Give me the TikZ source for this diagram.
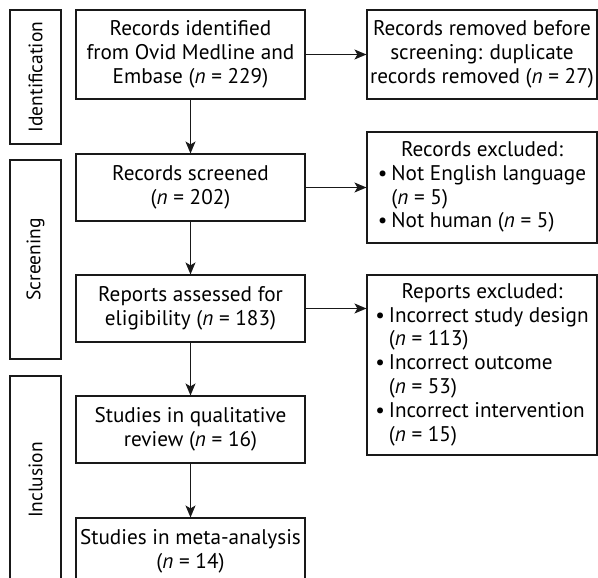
\documentclass[tikz,border=0pt]{standalone}
\usepackage{fontspec}
\setmainfont{PT Sans}
\usetikzlibrary{arrows.meta}
\begin{document}
\begin{tikzpicture}[x=1pt,y=-1pt,
  every node/.style={font=\fontsize{21.2}{23.8}\selectfont, text=black},
  box/.style={draw=black!90, line width=1.1pt, inner sep=0pt, align=center},
  phase/.style={box, rotate=90, font=\fontsize{19.5}{23.8}\selectfont},
  arr/.style={draw=black!90, line width=1.1pt, -{Stealth[length=12pt,width=10pt,inset=3pt]}}]
\useasboundingbox (0,0) rectangle (598,578);
\clip (0,0) rectangle (598,578);
% phase labels
\node[phase, minimum width=134pt, minimum height=51pt] (pid) at (35.5,77) {Identification};
\node[phase, minimum width=199pt, minimum height=51pt] (pscr) at (35.5,259.5) {Screening};
\node[phase, minimum width=208pt, minimum height=51pt] (pinc) at (35.5,480) {Inclusion};
% main column
\node[box, minimum width=229pt, minimum height=89pt] (b1) at (190.5,54.5) {Records identified\\from Ovid Medline and\\Embase (\textit{n} = 229)};
\node[box, minimum width=229pt, minimum height=67pt] (b2) at (190.5,187.5) {Records screened\\(\textit{n} = 202)};
\node[box, minimum width=229pt, minimum height=67pt] (b3) at (190.5,308.5) {Reports assessed for\\eligibility (\textit{n} = 183)};
\node[box, minimum width=229pt, minimum height=67pt] (b4) at (190.5,429.5) {Studies in qualitative\\review (\textit{n} = 16)};
\node[box, minimum width=229pt, minimum height=67pt] (b5) at (190.5,551.5) {Studies in meta-analysis\\(\textit{n} = 14)};
% right column
\node[box, minimum width=230pt, minimum height=89pt] (r1) at (482,54.5) {Records removed before\\screening: duplicate\\records removed (\textit{n} = 27)};
\node[box, minimum width=230pt, minimum height=111pt] (r2) at (482,187.5) {\begin{tabular}{@{}l@{\hspace{4pt}}l@{}}
\multicolumn{2}{c}{Records excluded:}\\
\textbullet & Not English language\\
 & (\textit{n} = 5)\\
\textbullet & Not human (\textit{n} = 5)
\end{tabular}};
\node[box, minimum width=230pt, minimum height=180pt] (r3) at (482,365) {\begin{tabular}{@{}l@{\hspace{4pt}}l@{}}
\multicolumn{2}{c}{Reports excluded:}\\
\textbullet & Incorrect study design\\
 & (\textit{n} = 113)\\
\textbullet & Incorrect outcome\\
 & (\textit{n} = 53)\\
\textbullet & Incorrect intervention\\
 & (\textit{n} = 15)
\end{tabular}};
% connectors
\draw[arr] (b1) -- (b2);
\draw[arr] (b2) -- (b3);
\draw[arr] (b3) -- (b4);
\draw[arr] (b4) -- (b5);
\draw[arr] (b1) -- (r1);
\draw[arr] (b2) -- (r2);
\draw[arr] (b3.east) -- (b3.east -| r3.west);
\end{tikzpicture}
\end{document}
